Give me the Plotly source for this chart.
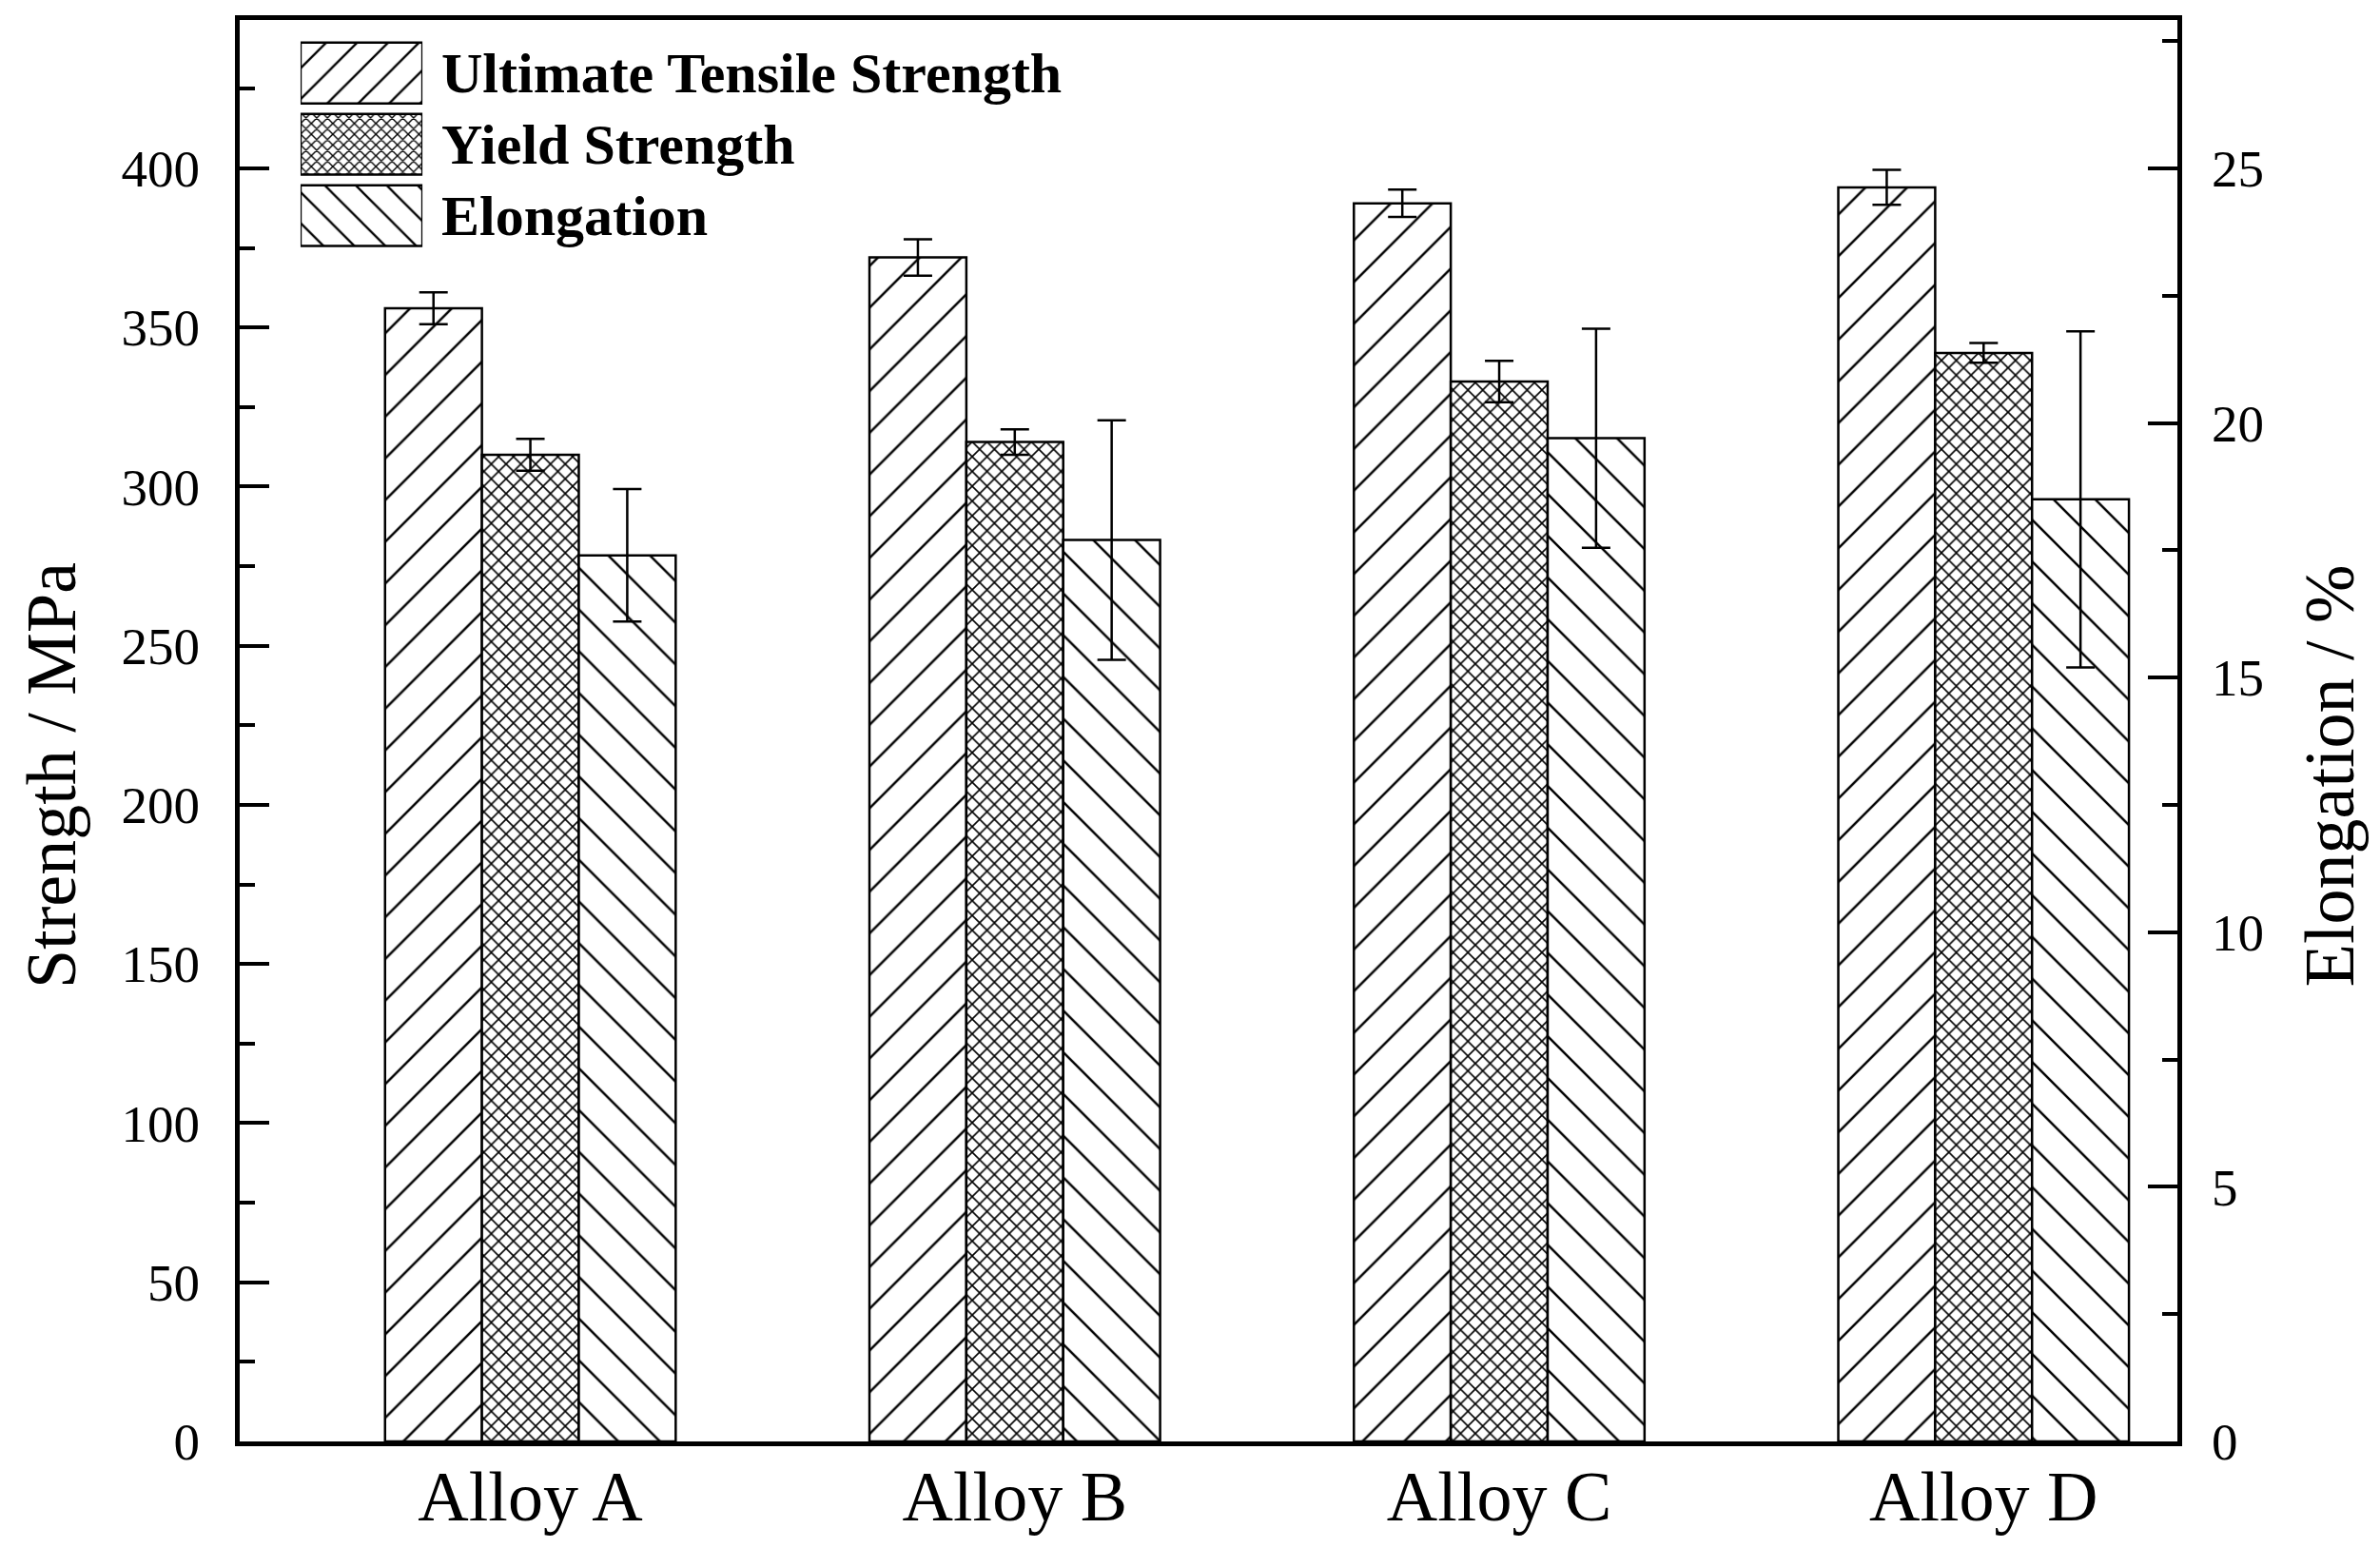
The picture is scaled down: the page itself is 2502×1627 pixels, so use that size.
import plotly.graph_objects as go

# ---- data ----
alloys = ["Alloy A", "Alloy B", "Alloy C", "Alloy D"]
uts = [356, 372, 389, 394]
uts_err = [5.0, 5.7, 4.3, 5.5]
ys = [310, 314, 333, 342]
ys_err = [5.0, 4.0, 6.5, 3.1]
elong = [17.4, 17.7, 19.7, 18.5]
elong_err = [1.3, 2.35, 2.15, 3.3]

series_names = ["Ultimate Tensile Strength", "Yield Strength", "Elongation"]
legend_len = [1, 1, 1]

FONT = "Liberation Serif"
# page body has an 8px default margin -> shrink figure so it fits the window exactly
W, H = 2486, 1611
ML, MR, MT, MB = 244, 205, 13, 104

def pat(shape, size, solidity):
    return dict(shape=shape, fgcolor="black", bgcolor="white", size=size,
                solidity=solidity, fillmode="replace")

fig = go.Figure()

err_style = dict(type="data", color="black", thickness=2.5, width=15, visible=True)

fig.add_trace(go.Bar(
    x=alloys, y=uts, width=0.2, offset=-0.3, yaxis="y", xaxis="x",
    error_y=dict(array=uts_err, **err_style),
    marker=dict(color="white", line=dict(color="black", width=2.5),
                pattern=pat("/", 31, 0.08)),
    name=series_names[0], showlegend=False))

fig.add_trace(go.Bar(
    x=alloys, y=ys, width=0.2, offset=-0.1, yaxis="y", xaxis="x",
    error_y=dict(array=ys_err, **err_style),
    marker=dict(color="white", line=dict(color="black", width=2.5),
                pattern=pat("x", 11, 0.27)),
    name=series_names[1], showlegend=False))

fig.add_trace(go.Bar(
    x=alloys, y=elong, width=0.2, offset=0.1, yaxis="y2", xaxis="x",
    error_y=dict(array=elong_err, **err_style),
    marker=dict(color="white", line=dict(color="black", width=2.5),
                pattern=pat("\\", 31, 0.08)),
    name=series_names[2], showlegend=False))

# ---- legend swatches (inset axis) ----
leg_patterns = [pat("/", 23, 0.1), pat("x", 8, 0.32), pat("\\", 23, 0.1)]
for name, length, p in zip(series_names, legend_len, leg_patterns):
    fig.add_trace(go.Bar(
        x=[length], y=[name], orientation="h", width=0.853, base=0,
        xaxis="x3", yaxis="y3", cliponaxis=False,
        marker=dict(color="white", line=dict(color="black", width=2.5), pattern=p),
        showlegend=False, hoverinfo="skip"))
    fig.add_annotation(x=length, y=name, xref="x3", yref="y3", xanchor="left",
                       xshift=18, text=name, showarrow=False,
                       font=dict(family=FONT, size=60, color="black", weight="bold"))

# axis titles (placed slightly below the vertical centre, as in the reference)
fig.add_annotation(x=-0.0972, y=0.4685, xref="paper", yref="paper", textangle=-90,
                   text="Strength / MPa", showarrow=False, xanchor="center", yanchor="middle",
                   font=dict(family=FONT, size=74, color="black"))
fig.add_annotation(x=1.0786, y=0.4685, xref="paper", yref="paper", textangle=-90,
                   text="Elongation / %", showarrow=False, xanchor="center", yanchor="middle",
                   font=dict(family=FONT, size=74, color="black"))

axis_common = dict(showgrid=False, zeroline=False, showline=True, linecolor="black",
                   linewidth=5)

fig.update_layout(
    width=W, height=H,
    margin=dict(l=ML, r=MR, t=MT, b=MB),
    paper_bgcolor="white", plot_bgcolor="white",
    barmode="overlay",
    font=dict(family=FONT, color="black"),
    xaxis=dict(**axis_common, type="category", range=[-0.6, 3.4], mirror=True,
               ticks="", tickfont=dict(family=FONT, size=74), ticklabelstandoff=-11,
               automargin=False),
    yaxis=dict(**axis_common, range=[0, 446.6], dtick=50, tick0=0,
               ticks="inside", ticklen=31, tickwidth=4, tickcolor="black",
               minor=dict(dtick=25, ticks="inside", ticklen=16, tickwidth=4, tickcolor="black"),
               tickfont=dict(family=FONT, size=55), ticklabelstandoff=26,
               automargin=False),
    yaxis2=dict(**axis_common, overlaying="y", side="right", anchor="x",
                range=[0, 446.6 / 16], dtick=5, tick0=0,
                ticks="inside", ticklen=31, tickwidth=4, tickcolor="black",
                minor=dict(dtick=2.5, ticks="inside", ticklen=16, tickwidth=4, tickcolor="black"),
                tickfont=dict(family=FONT, size=55), ticklabelstandoff=20,
                automargin=False),
    xaxis3=dict(domain=[0.0314, 0.0943], anchor="y3", range=[0, 1], visible=False,
                fixedrange=True),
    yaxis3=dict(domain=[0.8373, 0.9878], anchor="x3", type="category",
                categoryorder="array", categoryarray=series_names[::-1],
                range=[-0.5, 2.5], visible=False, fixedrange=True),
)

fig.write_html("out.html")
